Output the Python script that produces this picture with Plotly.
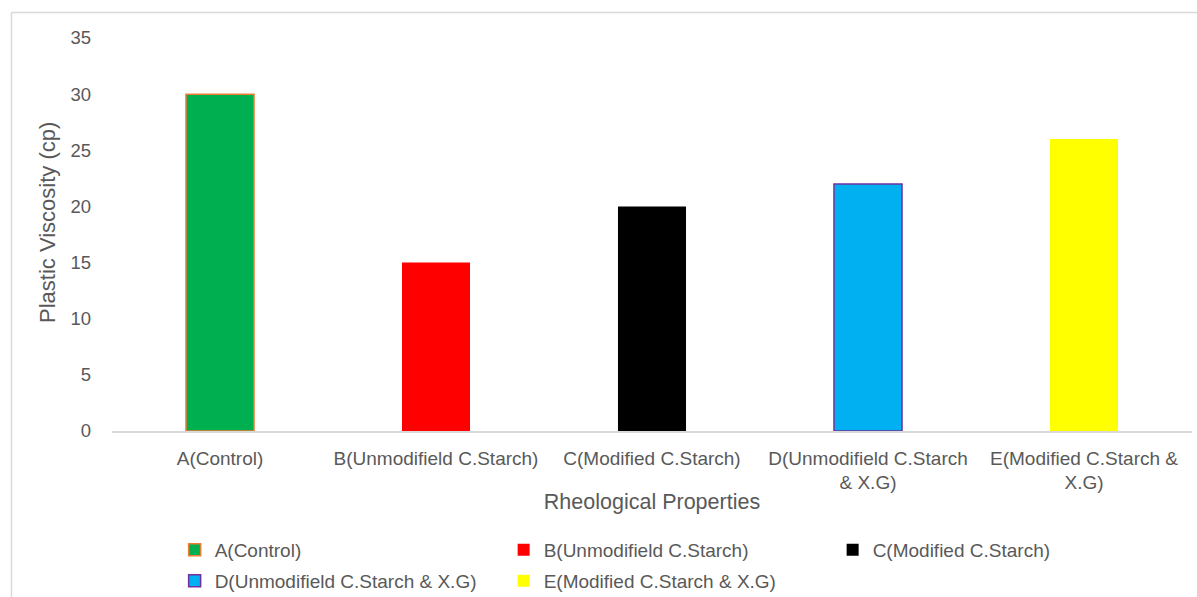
import plotly.graph_objects as go

categories = ["A(Control)", "B(Unmodifield C.Starch)", "C(Modified C.Starch)",
              "D(Unmodifield C.Starch & X.G)", "E(Modified C.Starch & X.G)"]
tick_labels = ["A(Control)", "B(Unmodifield C.Starch)", "C(Modified C.Starch)",
               "D(Unmodifield C.Starch<br>& X.G)", "E(Modified C.Starch &<br>X.G)"]
values = [30, 15, 20, 22, 26]
fill_colors = ["#00B050", "#FF0000", "#000000", "#00B0F0", "#FFFF00"]
line_colors = ["#ED7D31", "#FF0000", "#000000", "#7030A0", "#FFFF00"]
line_widths = [1.5, 0, 0, 1.5, 0]
legend_rows = ["legend", "legend", "legend", "legend2", "legend2"]
x_title = "Rheological Properties"
y_title = "Plastic Viscosity (cp)"

FONT = "Liberation Sans, Arial, sans-serif"
GRAY = "#595959"

fig = go.Figure()
for i, (cat, val) in enumerate(zip(categories, values)):
    fig.add_trace(go.Bar(
        x=[i], y=[val], name=cat, width=0.315, legend=legend_rows[i],
        marker=dict(color=fill_colors[i],
                    line=dict(color=line_colors[i], width=line_widths[i])),
    ))

legend_common = dict(
    orientation="h", x=0.058, xanchor="left", yanchor="top",
    entrywidth=284, entrywidthmode="pixels", traceorder="normal",
    font=dict(size=19, color=GRAY), bgcolor="rgba(0,0,0,0)",
)

fig.update_layout(
    width=1197, height=597,
    margin=dict(l=112, r=5, t=38, b=166, autoexpand=False),
    paper_bgcolor="white", plot_bgcolor="white",
    barmode="overlay",
    font=dict(family=FONT, color=GRAY, size=19),
    xaxis=dict(
        tickmode="array", tickvals=list(range(len(categories))), ticktext=tick_labels,
        range=[-0.5, 4.5], showline=True, linecolor="#D9D9D9", linewidth=1.5,
        ticks="", showgrid=False, zeroline=False, ticklabelstandoff=9,
        tickfont=dict(size=19, color=GRAY),
        title=dict(text=x_title, font=dict(size=21.5, color=GRAY), standoff=2),
    ),
    yaxis=dict(
        range=[0, 35], tickvals=[0, 5, 10, 15, 20, 25, 30, 35],
        showline=False, showgrid=False, zeroline=False, ticks="",
        ticklabelstandoff=20, tickfont=dict(size=18.5, color=GRAY),
    ),
    legend=dict(legend_common, y=(431 - 531) / 393),
    legend2=dict(legend_common, y=(431 - 562) / 393),
    showlegend=True,
)

fig.add_annotation(
    text=y_title, textangle=-90, showarrow=False,
    xref="paper", yref="paper", x=(47 - 112) / 1080, y=(431 - 223) / 393,
    xanchor="center", yanchor="middle",
    font=dict(size=22, color=GRAY, family=FONT),
)

# outer chart border (left and top edges visible)
x_left = (11.5 - 112) / 1080
y_top = (431 - 12.5) / 393
fig.add_shape(type="line", xref="paper", yref="paper", x0=x_left, x1=x_left,
              y0=-0.45, y1=y_top, line=dict(color="#D9D9D9", width=1.5))
fig.add_shape(type="line", xref="paper", yref="paper", x0=x_left, x1=1.02,
              y0=y_top, y1=y_top, line=dict(color="#D9D9D9", width=1.5))

fig.write_html("out.html")
